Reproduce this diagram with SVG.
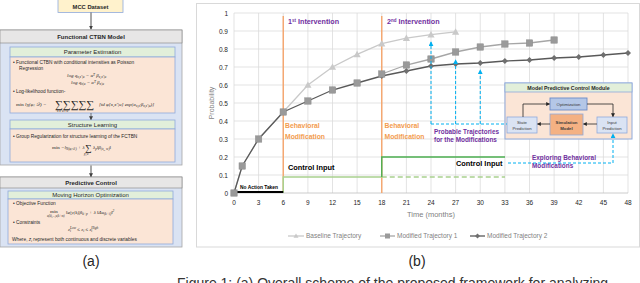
<svg xmlns="http://www.w3.org/2000/svg" width="640" height="283" viewBox="0 0 640 283">
<defs>
<style>
text{font-family:"Liberation Sans",Arial,sans-serif;fill:#262626}
.b{font-weight:bold}
.sm{font-size:4.8px}
.hd{font-size:6px;text-anchor:middle}
.tick{font-size:6.5px;fill:#7f7f7f}
.tx{text-anchor:middle}
.ty{text-anchor:end}
.grid line{stroke:#d9d9d9;stroke-width:0.75}
.pur{fill:#7030a0;font-weight:bold}
.org{fill:#f39c4f;font-weight:bold;font-size:6.8px}
.leg{font-size:6.5px;fill:#7f7f7f}
.cy{stroke:#00b0f0;stroke-width:1;stroke-dasharray:3,2;fill:none}
.blk{stroke:#262626;stroke-width:0.8;fill:none}
.mpc{font-size:4.3px;text-anchor:middle;fill:#3a3a3a}
.green{fill:#e2efda;stroke:#8faadc;stroke-width:0.8}
.pink{fill:#fbe5d6;stroke:#8faadc;stroke-width:0.8}
.panel{fill:#dae3f3;stroke:#a6a6a6;stroke-width:0.8}
.ghead{fill:#e7e6e6;stroke:#7f7f7f;stroke-width:0.6}
.math{font-family:"Liberation Serif","DejaVu Serif",serif;font-size:5px;font-style:italic}
.sig{font-family:"Liberation Serif","DejaVu Serif",serif;font-size:11px}
</style>
<marker id="ac" viewBox="0 0 6 6" refX="5" refY="3" markerWidth="5" markerHeight="5" markerUnits="userSpaceOnUse" orient="auto"><path d="M0,0 L6,3 L0,6 z" fill="#00b0f0"/></marker>
<marker id="ab" viewBox="0 0 6 6" refX="5" refY="3" markerWidth="4" markerHeight="4" markerUnits="userSpaceOnUse" orient="auto"><path d="M0,0 L6,3 L0,6 z" fill="#262626"/></marker>
<marker id="ag" viewBox="0 0 6 6" refX="5" refY="3" markerWidth="4" markerHeight="4" markerUnits="userSpaceOnUse" orient="auto"><path d="M0,0 L6,3 L0,6 z" fill="#404040"/></marker>
<path id="tri" d="M0,-3.6 L3.6,2.8 L-3.6,2.8 Z" fill="#c9c9c9"/>
<rect id="sq" x="-3.2" y="-3.2" width="6.4" height="6.4" fill="#9a9a9a" stroke="#8a8a8a" stroke-width="0.5"/>
<path id="dia" d="M0,-3 L3,0 L0,3 L-3,0 Z" fill="#6f6f6f"/>
</defs>
<rect x="0" y="0" width="640" height="283" fill="#ffffff"/>

<!-- Panel (a) -->
<g id="mcc-dataset">
<rect x="58" y="-1" width="65" height="13.5" fill="#fff2cc" stroke="#8faadc" stroke-width="0.8"/>
<text x="90.5" y="8.5" class="hd b" style="font-size:5.8px">MCC Dataset</text>
</g>
<g id="ctbn-model">
<rect x="0" y="30" width="182" height="135" class="panel"/>
<rect x="0" y="30" width="182" height="13" class="ghead"/>
<text x="91" y="39" class="hd b">Functional CTBN Model</text>
<rect x="10" y="47" width="165" height="10" class="green"/>
<text x="92.5" y="54.2" class="hd">Parameter Estimation</text>
<rect x="10" y="57" width="165" height="56" class="pink"/>
<text x="13" y="63.5" class="sm">•  Functional CTBN with conditional intensities as Poisson</text>
<text x="19" y="70" class="sm">Regression</text>
<text x="67" y="77" class="math">log q<tspan font-size="3.5px" dy="1">x,x′|u</tspan><tspan dy="-1"> = α</tspan><tspan font-size="3.5px" dy="-1.5">T</tspan><tspan dy="1.5"> β</tspan><tspan font-size="3.5px" dy="1">x,x′|u</tspan></text>
<text x="71" y="84" class="math">log q<tspan font-size="3.5px" dy="1">x|u</tspan><tspan dy="-1"> = α</tspan><tspan font-size="3.5px" dy="-1.5">T</tspan><tspan dy="1.5"> β</tspan><tspan font-size="3.5px" dy="1">x|u</tspan></text>
<text x="13" y="92.5" class="sm">•  Log-likelihood function-</text>
<text x="16" y="106" class="math"><tspan font-style="normal">min</tspan> l<tspan font-size="3.5px" dy="1">N</tspan><tspan dy="-1">(φ; 𝒟) =</tspan></text>
<text x="55" y="108" class="sig">∑∑∑∑∑</text>
<text x="57" y="111.5" class="math" style="font-size:3.2px">x       x′      u      t      w</text>
<text x="99" y="106" class="math">[td φ[x,x′|u] exp(α<tspan font-size="3.5px" dy="1">x,x′</tspan><tspan dy="-1">β</tspan><tspan font-size="3.5px" dy="1">x,x′|u</tspan><tspan dy="-1">)]</tspan></text>
<rect x="10" y="120" width="165" height="9" class="green"/>
<text x="92.5" y="126.8" class="hd">Structure Learning</text>
<rect x="10" y="129" width="165" height="33" class="pink"/>
<text x="13" y="138" class="sm">•  Group Regularization for structure learning of the FCTBN</text>
<text x="52" y="149" class="math"><tspan font-style="normal">min</tspan> −l<tspan font-size="3.5px" dy="1">N(φ;𝒟)</tspan><tspan dy="-1"> + λ</tspan></text>
<text x="85" y="151" class="sig" style="font-size:9px">∑</text>
<text x="84" y="154.5" class="math" style="font-size:3.2px">p,w</text>
<text x="93" y="149" class="math">λ<tspan font-size="3.5px" dy="1">p</tspan><tspan dy="-1">‖β</tspan><tspan font-size="3.5px" dy="1">(x</tspan><tspan font-size="2.8px" dy="0.6">j</tspan><tspan font-size="3.5px" dy="-0.6">, w)</tspan><tspan dy="-1">‖</tspan></text>
</g>
<g id="predictive-control">
<rect x="0" y="177" width="182" height="70" class="panel"/>
<rect x="0" y="177" width="182" height="11" class="ghead"/>
<text x="91" y="185" class="hd b">Predictive Control</text>
<rect x="8" y="191" width="165" height="8" class="green"/>
<text x="90.5" y="197.3" class="hd">Moving Horizon Optimization</text>
<rect x="8" y="199" width="165" height="45" class="pink"/>
<text x="13" y="205" class="sm">•  Objective Function</text>
<text x="50" y="213" class="math" style="font-style:normal">min</text>
<text x="47" y="216.5" class="math" style="font-size:3px">u(k),...,u(k+m)</text>
<text x="66" y="214" class="math">‖e(y(k))‖<tspan font-size="3.5px" dy="1">k+p</tspan><tspan dy="-1"> + λ ‖Δu</tspan><tspan font-size="3.5px" dy="1">(k+i)</tspan><tspan dy="-1">‖</tspan><tspan font-size="3.5px" dy="-2">2</tspan></text>
<text x="13" y="223.5" class="sm">•  Constraints</text>
<text x="68" y="231" class="math">z<tspan font-size="3.5px" dy="1">i</tspan><tspan font-size="3.5px" dx="-1" dy="-3">Low</tspan><tspan dy="2"> ≤ z</tspan><tspan font-size="3.5px" dy="1">i</tspan><tspan dy="-1"> ≤ z</tspan><tspan font-size="3.5px" dy="1">i</tspan><tspan font-size="3.5px" dx="-1" dy="-3">High</tspan></text>
<text x="12" y="241" class="sm">Where, <tspan font-style="italic">z<tspan font-size="3.5px" dy="1">i</tspan></tspan><tspan dy="-1"> represent both continuous and discrete variables</tspan></text>
</g>
<g id="panel-a-connectors">
<line x1="91" y1="12.5" x2="91" y2="29" stroke="#404040" stroke-width="0.9" marker-end="url(#ag)"/>
<line x1="91" y1="113" x2="91" y2="119.5" stroke="#404040" stroke-width="0.7" marker-end="url(#ag)"/>
<line x1="91" y1="165.5" x2="91" y2="176.5" stroke="#404040" stroke-width="0.9" marker-end="url(#ag)"/>
</g>
<text x="91" y="266" class="tx" style="font-size:14px">(a)</text>

<!-- Panel (b) chart -->
<g id="chart">
<rect x="196.5" y="3.5" width="443" height="243.5" fill="#ffffff" stroke="#d9d9d9" stroke-width="1"/>
<g class="grid">
<line x1="234" y1="13" x2="628" y2="13"/><line x1="234" y1="31" x2="628" y2="31"/><line x1="234" y1="49" x2="628" y2="49"/><line x1="234" y1="67" x2="628" y2="67"/><line x1="234" y1="85" x2="628" y2="85"/><line x1="234" y1="103" x2="628" y2="103"/><line x1="234" y1="121" x2="628" y2="121"/><line x1="234" y1="139" x2="628" y2="139"/><line x1="234" y1="157" x2="628" y2="157"/><line x1="234" y1="175" x2="628" y2="175"/>
<line x1="234" y1="13" x2="234" y2="193"/><line x1="258.6" y1="13" x2="258.6" y2="193"/><line x1="283.25" y1="13" x2="283.25" y2="193"/><line x1="307.9" y1="13" x2="307.9" y2="193"/><line x1="332.5" y1="13" x2="332.5" y2="193"/><line x1="357.1" y1="13" x2="357.1" y2="193"/><line x1="381.75" y1="13" x2="381.75" y2="193"/><line x1="406.4" y1="13" x2="406.4" y2="193"/><line x1="431" y1="13" x2="431" y2="193"/><line x1="455.6" y1="13" x2="455.6" y2="193"/><line x1="480.25" y1="13" x2="480.25" y2="193"/><line x1="504.9" y1="13" x2="504.9" y2="193"/><line x1="529.5" y1="13" x2="529.5" y2="193"/><line x1="554.1" y1="13" x2="554.1" y2="193"/><line x1="578.75" y1="13" x2="578.75" y2="193"/><line x1="603.4" y1="13" x2="603.4" y2="193"/><line x1="628" y1="13" x2="628" y2="193"/>
</g>
<line x1="234" y1="193" x2="628" y2="193" stroke="#bfbfbf" stroke-width="0.8"/>
<g class="tick ty">
<text x="228" y="15.5">1</text><text x="228" y="33.5">0.9</text><text x="228" y="51.5">0.8</text><text x="228" y="69.5">0.7</text><text x="228" y="87.5">0.6</text><text x="228" y="105.5">0.5</text><text x="228" y="123.5">0.4</text><text x="228" y="141.5">0.3</text><text x="228" y="159.5">0.2</text><text x="228" y="177.5">0.1</text><text x="228" y="195.5">0</text>
</g>
<g class="tick tx">
<text x="234" y="205">0</text><text x="258.6" y="205">3</text><text x="283.25" y="205">6</text><text x="307.9" y="205">9</text><text x="332.5" y="205">12</text><text x="357.1" y="205">15</text><text x="381.75" y="205">18</text><text x="406.4" y="205">21</text><text x="431" y="205">24</text><text x="455.6" y="205">27</text><text x="480.25" y="205">30</text><text x="504.9" y="205">33</text><text x="529.5" y="205">36</text><text x="554.1" y="205">39</text><text x="578.75" y="205">42</text><text x="603.4" y="205">45</text><text x="628" y="205">48</text>
</g>
<text x="431" y="217" class="tx" style="font-size:7.5px;fill:#7f7f7f">Time (months)</text>
<text transform="translate(214,103) rotate(-90)" class="tx" style="font-size:7px;fill:#7f7f7f">Probability</text>
</g>

<g id="interventions">
<line x1="283.25" y1="16" x2="283.25" y2="193" stroke="#f6a56c" stroke-width="1.4"/>
<line x1="381.75" y1="16" x2="381.75" y2="193" stroke="#f6a56c" stroke-width="1.4"/>
<text x="288" y="24" class="pur" style="font-size:7.2px">1<tspan font-size="4.5px" dy="-2.5">st</tspan><tspan dy="2.5"> Intervention</tspan></text>
<text x="387" y="24" class="pur" style="font-size:7.2px">2<tspan font-size="4.5px" dy="-2.5">nd</tspan><tspan dy="2.5"> Intervention</tspan></text>
<text x="285" y="128" class="org">Behavioral</text>
<text x="285" y="138.5" class="org">Modification</text>
<text x="384.5" y="128" class="org">Behavioral</text>
<text x="384.5" y="138.5" class="org">Modification</text>
</g>

<g id="control-input">
<path d="M283.25,193 V177 H381.75" stroke="#a9d18e" stroke-width="1.5" fill="none"/>
<path d="M381.75,177 H505" stroke="#a9d18e" stroke-width="1.5" stroke-dasharray="5,3" fill="none"/>
<path d="M381.75,177 V157 H505" stroke="#4caf50" stroke-width="1.4" fill="none"/>
<line x1="234" y1="192" x2="283.25" y2="192" stroke="#000" stroke-width="2"/>
<text x="240" y="188.5" class="b" style="font-size:4.9px;fill:#000">No Action Taken</text>
<text x="288" y="170" class="b" style="font-size:7.4px;fill:#000">Control Input</text>
<text x="456" y="165.5" class="b" style="font-size:7.4px;fill:#000">Control Input</text>
</g>

<g id="trajectories">
<polyline points="234,193 242.2,166 258.6,139 283.25,112 307.9,85 332.5,67 357.1,54.4 381.75,43.6 406.4,38.2 431,34.6 455.6,31.9" fill="none" stroke="#c9c9c9" stroke-width="1.3"/>
<use href="#tri" x="307.9" y="85"/><use href="#tri" x="332.5" y="67"/><use href="#tri" x="357.1" y="54.4"/><use href="#tri" x="381.75" y="43.6"/><use href="#tri" x="406.4" y="38.2"/><use href="#tri" x="431" y="34.6"/><use href="#tri" x="455.6" y="31.9"/>
<polyline points="381.75,74 406.4,65 431,59 455.6,52 480.25,47 504.9,44 529.5,43 554.1,40" fill="none" stroke="#a6a6a6" stroke-width="1.3"/>
<polyline points="234,193 242.2,166 258.6,139 283.25,112 307.9,101 332.5,90 357.1,83 381.75,76 406.4,71 431,66 455.6,64 480.25,63 504.9,61 529.5,60 554.1,58 578.75,57 603.4,55 628,53" fill="none" stroke="#595959" stroke-width="1.3"/>
<use href="#dia" x="381.75" y="76"/><use href="#dia" x="406.4" y="71"/><use href="#dia" x="431" y="66"/><use href="#dia" x="455.6" y="64"/><use href="#dia" x="480.25" y="63"/><use href="#dia" x="504.9" y="61"/><use href="#dia" x="529.5" y="60"/><use href="#dia" x="554.1" y="58"/><use href="#dia" x="578.75" y="57"/><use href="#dia" x="603.4" y="55"/><use href="#dia" x="628" y="53"/>
<use href="#sq" x="234" y="193"/><use href="#sq" x="242.2" y="166"/><use href="#sq" x="258.6" y="139"/><use href="#sq" x="283.25" y="112"/><use href="#sq" x="307.9" y="101"/><use href="#sq" x="332.5" y="90"/><use href="#sq" x="357.1" y="83"/><use href="#sq" x="381.75" y="74"/><use href="#sq" x="406.4" y="65"/><use href="#sq" x="431" y="59"/><use href="#sq" x="455.6" y="52"/><use href="#sq" x="480.25" y="47"/><use href="#sq" x="504.9" y="44"/><use href="#sq" x="529.5" y="43"/><use href="#sq" x="554.1" y="40"/>
</g>

<g id="legend">
<line x1="288" y1="236" x2="304" y2="236" stroke="#c9c9c9" stroke-width="1.3"/><path d="M296,233.5 L298.5,237.8 L293.5,237.8 Z" fill="#c9c9c9"/>
<text x="306" y="238.3" class="leg">Baseline Trajectory</text>
<line x1="380" y1="236" x2="395" y2="236" stroke="#a6a6a6" stroke-width="1.3"/><rect x="385" y="233.5" width="5" height="5" fill="#9a9a9a"/>
<text x="397" y="238.3" class="leg">Modified Trajectory 1</text>
<line x1="470" y1="236" x2="485" y2="236" stroke="#595959" stroke-width="1.3"/><path d="M477.5,233.5 L480,236 L477.5,238.5 L475,236 Z" fill="#6f6f6f"/>
<text x="487" y="238.3" class="leg">Modified Trajectory 2</text>
</g>

<g id="probable-trajectories">
<text x="434" y="134" class="pur" style="font-size:6.4px">Probable Trajectories</text>
<text x="434" y="142" class="pur" style="font-size:6.4px">for the Modifications</text>
<text x="532" y="160" class="pur" style="font-size:6.4px">Exploring Behavioral</text>
<text x="532" y="168" class="pur" style="font-size:6.4px">Modifications</text>
</g>

<g id="mpc-module">
<rect x="505" y="83" width="127" height="56" fill="#fbe5d6" stroke="#8faadc" stroke-width="1"/>
<rect x="505" y="83" width="127" height="9" fill="#e2efda" stroke="#8faadc" stroke-width="0.8"/>
<text x="568.5" y="90" class="b tx" style="font-size:5.3px">Model Predictive Control Module</text>
</g>
<g id="optimization">
<rect x="550" y="98" width="37" height="12" fill="#b4c7e7" stroke="#6a8cc7" stroke-width="0.9"/>
<text x="568.5" y="105.5" class="mpc">Optimization</text>
</g>
<g id="state-prediction">
<rect x="507" y="117" width="30" height="16" fill="#dae3f3" stroke="#8faadc" stroke-width="0.8"/>
<text x="522" y="124" class="mpc">State</text>
<text x="522" y="130" class="mpc">Prediction</text>
</g>
<g id="simulation-model">
<rect x="550" y="114" width="33" height="21" fill="#f4b183" stroke="#8faadc" stroke-width="0.8"/>
<text x="566.5" y="123.5" class="mpc b">Simulation</text>
<text x="566.5" y="129.5" class="mpc b">Model</text>
</g>
<g id="input-prediction">
<rect x="597" y="117" width="30" height="16" fill="#dae3f3" stroke="#8faadc" stroke-width="0.8"/>
<text x="612" y="124" class="mpc">Input</text>
<text x="612" y="130" class="mpc">Prediction</text>
</g>

<g id="connectors">
<path d="M431,124 V42" class="cy" marker-end="url(#ac)"/>
<path d="M455.6,124 V60" class="cy" marker-end="url(#ac)"/>
<path d="M480.25,124 V70" class="cy" marker-end="url(#ac)"/>
<path d="M431,124 H507" class="cy"/>
<path d="M508,163 H613 V134" class="cy" marker-end="url(#ac)"/>
<path d="M523,117 V104 H549.5" class="blk" marker-end="url(#ab)"/>
<path d="M587,104 H613 V116.5" class="blk" marker-end="url(#ab)"/>
<path d="M597,124 H583.5" class="blk" marker-end="url(#ab)"/>
<path d="M550,124 H537.5" class="blk" marker-end="url(#ab)"/>
</g>

<text x="417" y="266" class="tx" style="font-size:14px">(b)</text>
<text x="177" y="287.5" style="font-size:14px;fill:#333">Figure 1: (a) Overall scheme of the proposed framework for analyzing</text>
</svg>
